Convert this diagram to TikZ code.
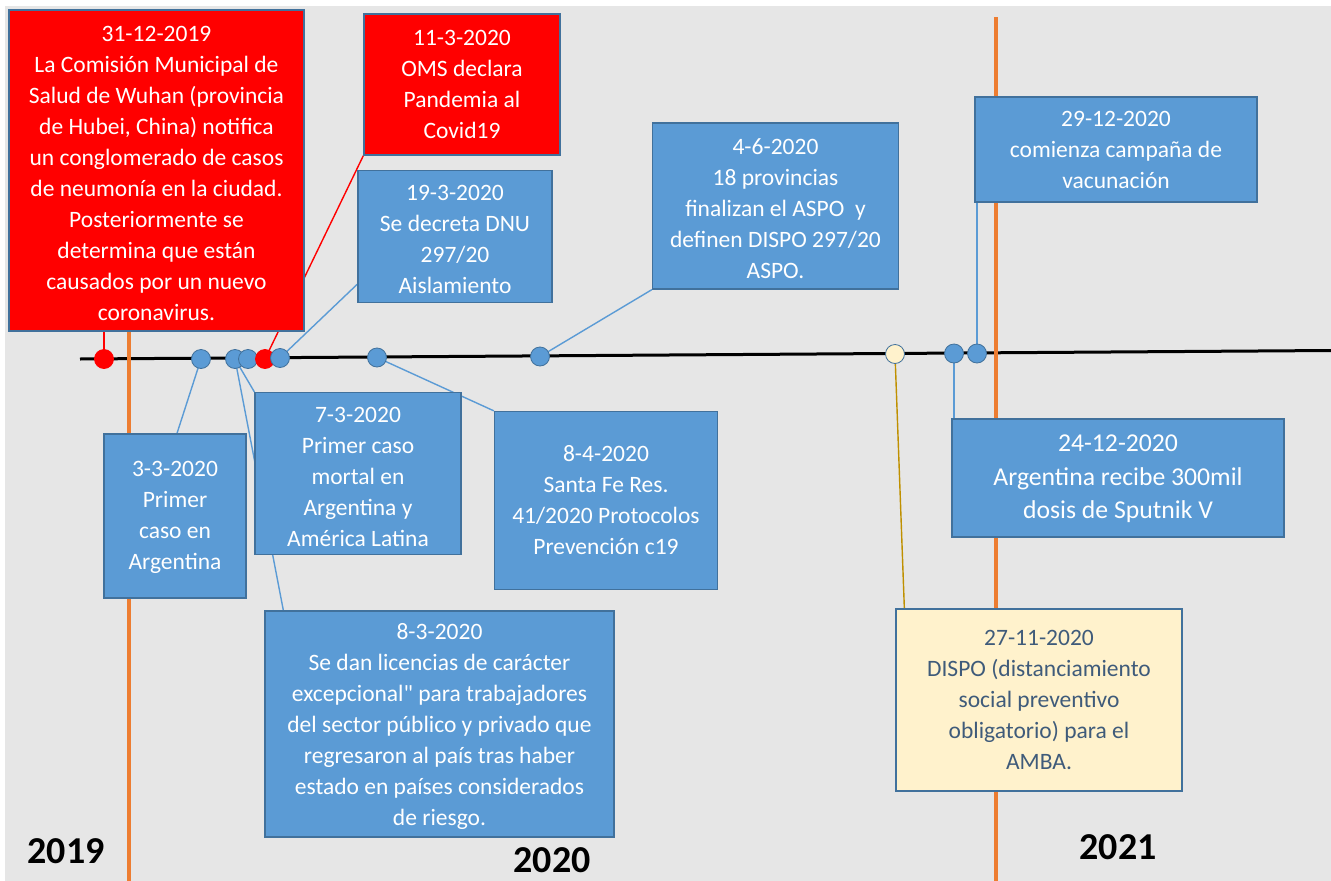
\documentclass[tikz,border=0pt]{standalone}
\usepackage{fontspec}
\setmainfont{Carlito}
\usetikzlibrary{calc}

\definecolor{panel}{HTML}{E6E6E6}
\definecolor{evblue}{HTML}{5B9BD5}
\definecolor{evedge}{HTML}{41719C}
\definecolor{evred}{HTML}{FF0000}
\definecolor{evyellow}{HTML}{FFF2CC}
\definecolor{evtext}{HTML}{3F5B7A}
\definecolor{yearline}{HTML}{ED7D31}
\definecolor{goldline}{HTML}{BF9000}

\pgfdeclarelayer{back}
\pgfsetlayers{back,main}

% taller first line: pushes a box's text block a little lower
\newcommand{\firstline}[1]{\rule{0pt}{#1}}
% a straight double quote, kept out of the TeX ligature mapping
\newcommand{\straightquote}{{\addfontfeatures{Ligatures=TeXOff}"}}

\begin{document}
\begin{tikzpicture}[x=1pt,y=-1pt,
  event/.style={draw=evedge, line width=1.3pt, fill=evblue, text=white,
    align=center, inner sep=0pt, font=\fontsize{23.5}{31}\selectfont},
  redevent/.style={event, fill=evred},
  yellowevent/.style={event, fill=evyellow, text=evtext},
  bigevent/.style={event, font=\fontsize{25.7}{33.5}\selectfont},
  marker/.style={circle, minimum size=19pt, inner sep=0pt,
    draw=evedge, line width=0.8pt, fill=evblue},
  redmarker/.style={marker, draw=evred, fill=evred},
  yellowmarker/.style={marker, fill=evyellow},
  link/.style={draw=evblue, line width=1.4pt},
  redlink/.style={draw=evred, line width=1.4pt},
  goldlink/.style={draw=goldline, line width=1.4pt},
  yearmark/.style={draw=yearline, line width=4.5pt},
  year/.style={font=\bfseries\fontsize{38}{38}\selectfont, text=black, inner sep=0pt}
]
\useasboundingbox (0,0) rectangle (1331,881);

% event boxes
\node[redevent, minimum width=295pt, minimum height=321pt] (b1) at (156.5,170.5)
  {\firstline{22pt}31-12-2019\\La Comisión Municipal de\\Salud de Wuhan (provincia\\de Hubei, China) notifica\\un conglomerado de casos\\de neumonía en la ciudad.\\Posteriormente se\\determina que están\\causados por un nuevo\\coronavirus.};
\node[redevent, minimum width=196pt, minimum height=141pt] (b2) at (462,84.5)
  {11-3-2020\\OMS declara\\Pandemia al\\Covid19};
\node[event, minimum width=194pt, minimum height=132pt] (b3) at (455,236.5)
  {\firstline{21pt}19-3-2020\\Se decreta DNU\\297/20\\Aislamiento};
\node[event, minimum width=246pt, minimum height=166pt] (b4) at (775.5,206)
  {\firstline{21pt}4-6-2020\\18 provincias\\finalizan el ASPO~ y\\definen DISPO 297/20\\ASPO.};
\node[event, minimum width=282pt, minimum height=105pt] (b5) at (1116,149.5)
  {29-12-2020\\comienza campaña de\\vacunación};
\node[event, minimum width=142pt, minimum height=164pt] (b6) at (175,516)
  {\firstline{18pt}3-3-2020\\Primer\\caso en\\Argentina};
\node[event, minimum width=206pt, minimum height=162pt] (b7) at (358,473.5)
  {\firstline{22pt}7-3-2020\\Primer caso\\mortal en\\Argentina y\\América Latina};
\node[event, minimum width=223pt, minimum height=178pt] (b8) at (606,500.5)
  {8-4-2020\\Santa Fe Res.\\41/2020 Protocolos\\Prevención c19};
\node[event, minimum width=349pt, minimum height=226pt] (b9) at (439.5,724)
  {\firstline{22pt}8-3-2020\\Se dan licencias de carácter\\excepcional\straightquote{} para trabajadores\\del sector público y privado que\\regresaron al país tras haber\\estado en países considerados\\de riesgo.};
\node[bigevent, minimum width=332pt, minimum height=118pt] (b10) at (1118,478)
  {\firstline{19pt}24-12-2020\\Argentina recibe 300mil\\dosis de Sputnik V};
\node[yellowevent, minimum width=286pt, minimum height=182pt] (b11) at (1039,700)
  {27-11-2020\\DISPO (distanciamiento\\social preventivo\\obligatorio) para el\\AMBA.};

% event markers on the axis
\node[redmarker]    (m1)  at (104,359)   {};
\node[marker]       (m2)  at (201,359)   {};
\node[marker]       (m3)  at (235,359)   {};
\node[marker]       (m4)  at (248,359)   {};
\node[redmarker]    (m5)  at (265,359)   {};
\node[marker]       (m6)  at (280,358)   {};
\node[marker]       (m7)  at (377,357.5) {};
\node[marker]       (m8)  at (540,356.5) {};
\node[yellowmarker] (m9)  at (895,354)   {};
\node[marker]       (m10) at (954,353.5) {};
\node[marker]       (m11) at (977,353.5) {};

% year labels
\node[year] (y2019) at (66,851) {2019};
\node[year] (y2020) at (552,860) {2020};
\node[year] (y2021) at (1118,847) {2021};

\begin{pgfonlayer}{back}
  \fill[white] (0,0) rectangle (1331,881);
  \fill[panel] (5,6) rectangle (1331,881);

  % main time axis
  \coordinate (axis-start) at (80,359);
  \coordinate (axis-end) at (1331,350.5);
  \draw[line width=3pt, black] (axis-start) -- (axis-end);

  % year separators
  \coordinate (sep1-top) at (129,17);
  \coordinate (sep1-bot) at (129,881);
  \coordinate (sep2-top) at (996,17);
  \coordinate (sep2-bot) at (996,881);
  \draw[yearmark] (sep1-top) -- (sep1-bot);
  \draw[yearmark] (sep2-top) -- (sep2-bot);

  % connectors from markers to their boxes
  \draw[redlink]  (m1.center)  -- (m1 |- b1.south);
  \draw[redlink]  (m5.center)  -- (b2.south west);
  \draw[link]     (m6.center)  -- ([yshift=19pt]b3.south west);
  \draw[link]     (m2.center)  -- ([xshift=2pt]b6.north);
  \draw[link]     (m3.center)  -- (b7.north west);
  \draw[link]     (m3.center)  -- ([xshift=19pt]b9.north west);
  \draw[link]     (m7.center)  -- (b8.north west);
  \draw[link]     (m8.center)  -- (b4.south west);
  \draw[goldlink] (m9.center)  -- ([xshift=9pt]b11.north west);
  \draw[link]     (m10.center) -- (m10 |- b10.north);
  \draw[link]     (m11.center) -- (m11 |- b5.south);
\end{pgfonlayer}
\end{tikzpicture}
\end{document}
